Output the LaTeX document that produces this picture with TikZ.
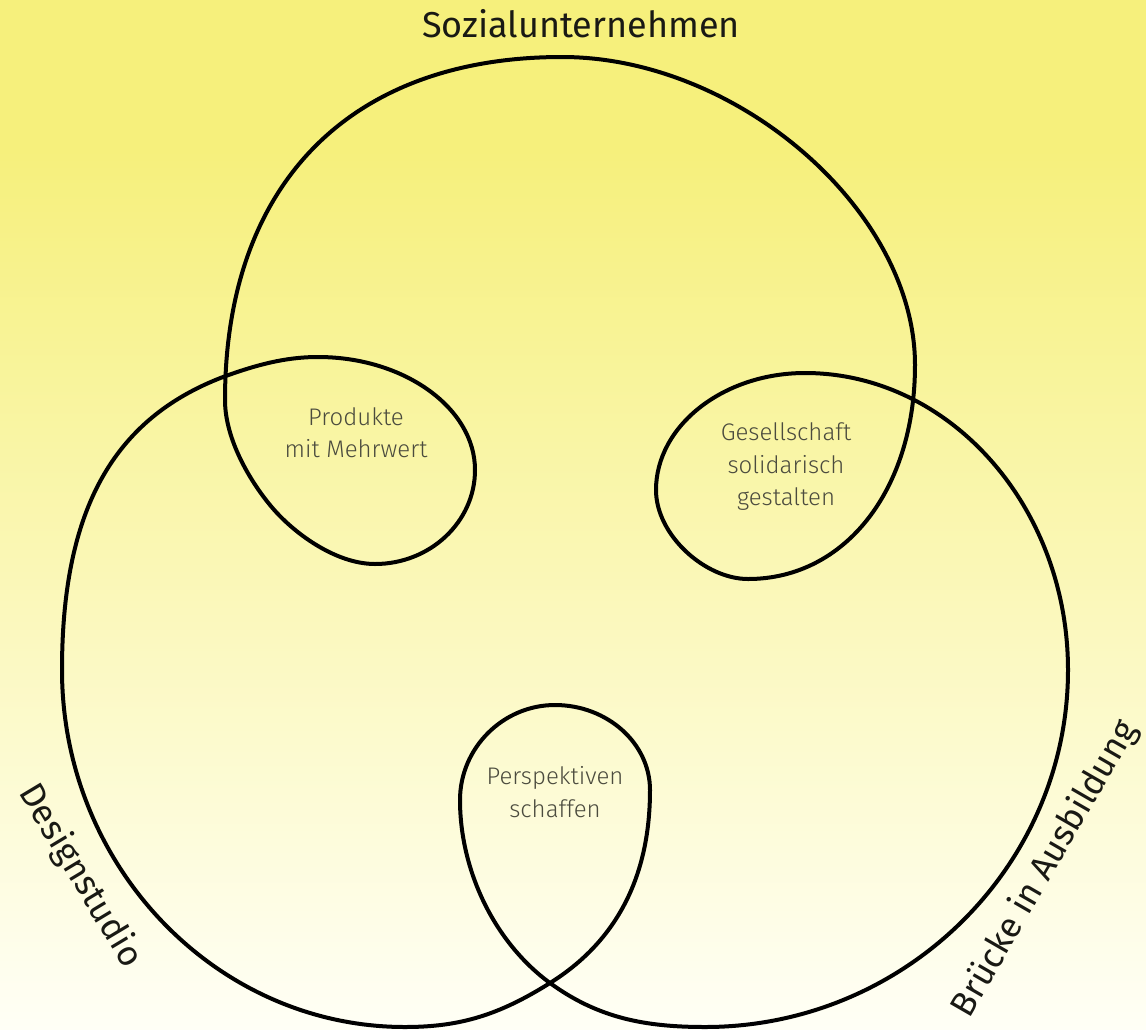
\documentclass[tikz,border=0pt]{standalone}
\usepackage{fontspec}
\setmainfont{Fira Sans}
\newfontfamily\lightfont{Fira Sans Light}
\definecolor{bgtop}{RGB}{246,240,124}
\definecolor{bgbot}{RGB}{255,255,246}
\definecolor{titlec}{RGB}{25,25,20}
\definecolor{lblc}{RGB}{75,75,62}
\begin{document}
\begin{tikzpicture}[x=1pt,y=-1pt,
  loopline/.style={line width=4pt, draw=black, line join=round},
  bigtitle/.style={font=\fontsize{36}{42}\selectfont, text=titlec, inner sep=0pt},
  sidetitle/.style={font=\fontsize{35}{42}\selectfont, text=titlec, inner sep=0pt},
  lbl/.style={font=\lightfont\fontsize{24}{32}\selectfont, text=lblc, inner sep=0pt, anchor=base}]
\useasboundingbox (0,0) rectangle (1146,1029);
\fill[bgtop] (0,0) rectangle (1146,151);
\shade[top color=bgtop, bottom color=bgbot] (0,150) rectangle (1146,1029);

\draw[loopline] (562,57)
 .. controls (738,57) and (915,211) .. (915,365)
 .. controls (915,490) and (845,579) .. (748,579)
 .. controls (705,579) and (656,535) .. (656,490)
 .. controls (656,426) and (723,373) .. (805,373)
 .. controls (950,373) and (1068,507) .. (1068,670)
 .. controls (1068,866) and (905,1027) .. (705,1027)
 .. controls (645,1027) and (598,1018) .. (550,983)
 .. controls (494,942) and (460,870) .. (460,800)
 .. controls (460,748) and (503,705) .. (555,705)
 .. controls (607,705) and (650,743) .. (650,790)
 .. controls (650,880) and (614,943) .. (550,983)
 .. controls (499,1015) and (460,1027) .. (405,1027)
 .. controls (216,1027) and (62,866) .. (62,670)
 .. controls (62,510) and (113,419) .. (223,377)
 .. controls (256,365) and (285,357) .. (318,357)
 .. controls (404,357) and (475,408) .. (475,470)
 .. controls (475,522) and (430,564) .. (375,564)
 .. controls (335,564) and (292,532) .. (270,505)
 .. controls (251,482) and (225,440) .. (225,400)
 .. controls (225,184) and (350,57) .. (562,57) -- cycle;

\node[bigtitle, anchor=base] (tsozial) at (581,37) {Sozialunternehmen};
\node[sidetitle, rotate=-59] (tdesign) at (80,876) {Designstudio};
\node[sidetitle, rotate=60] (tbruecke) at (1045,869) {Brücke in Ausbildung};

\node[lbl] (p1) at (356,425) {Produkte};
\node[lbl] (p2) at (356,457) {mit Mehrwert};
\node[lbl] (g1) at (786,440) {Gesellschaft};
\node[lbl] (g2) at (786,473) {solidarisch};
\node[lbl] (g3) at (786,505) {gestalten};
\node[lbl] (s1) at (555,784) {Perspektiven};
\node[lbl] (s2) at (555,817) {schaffen};
\end{tikzpicture}
\end{document}
